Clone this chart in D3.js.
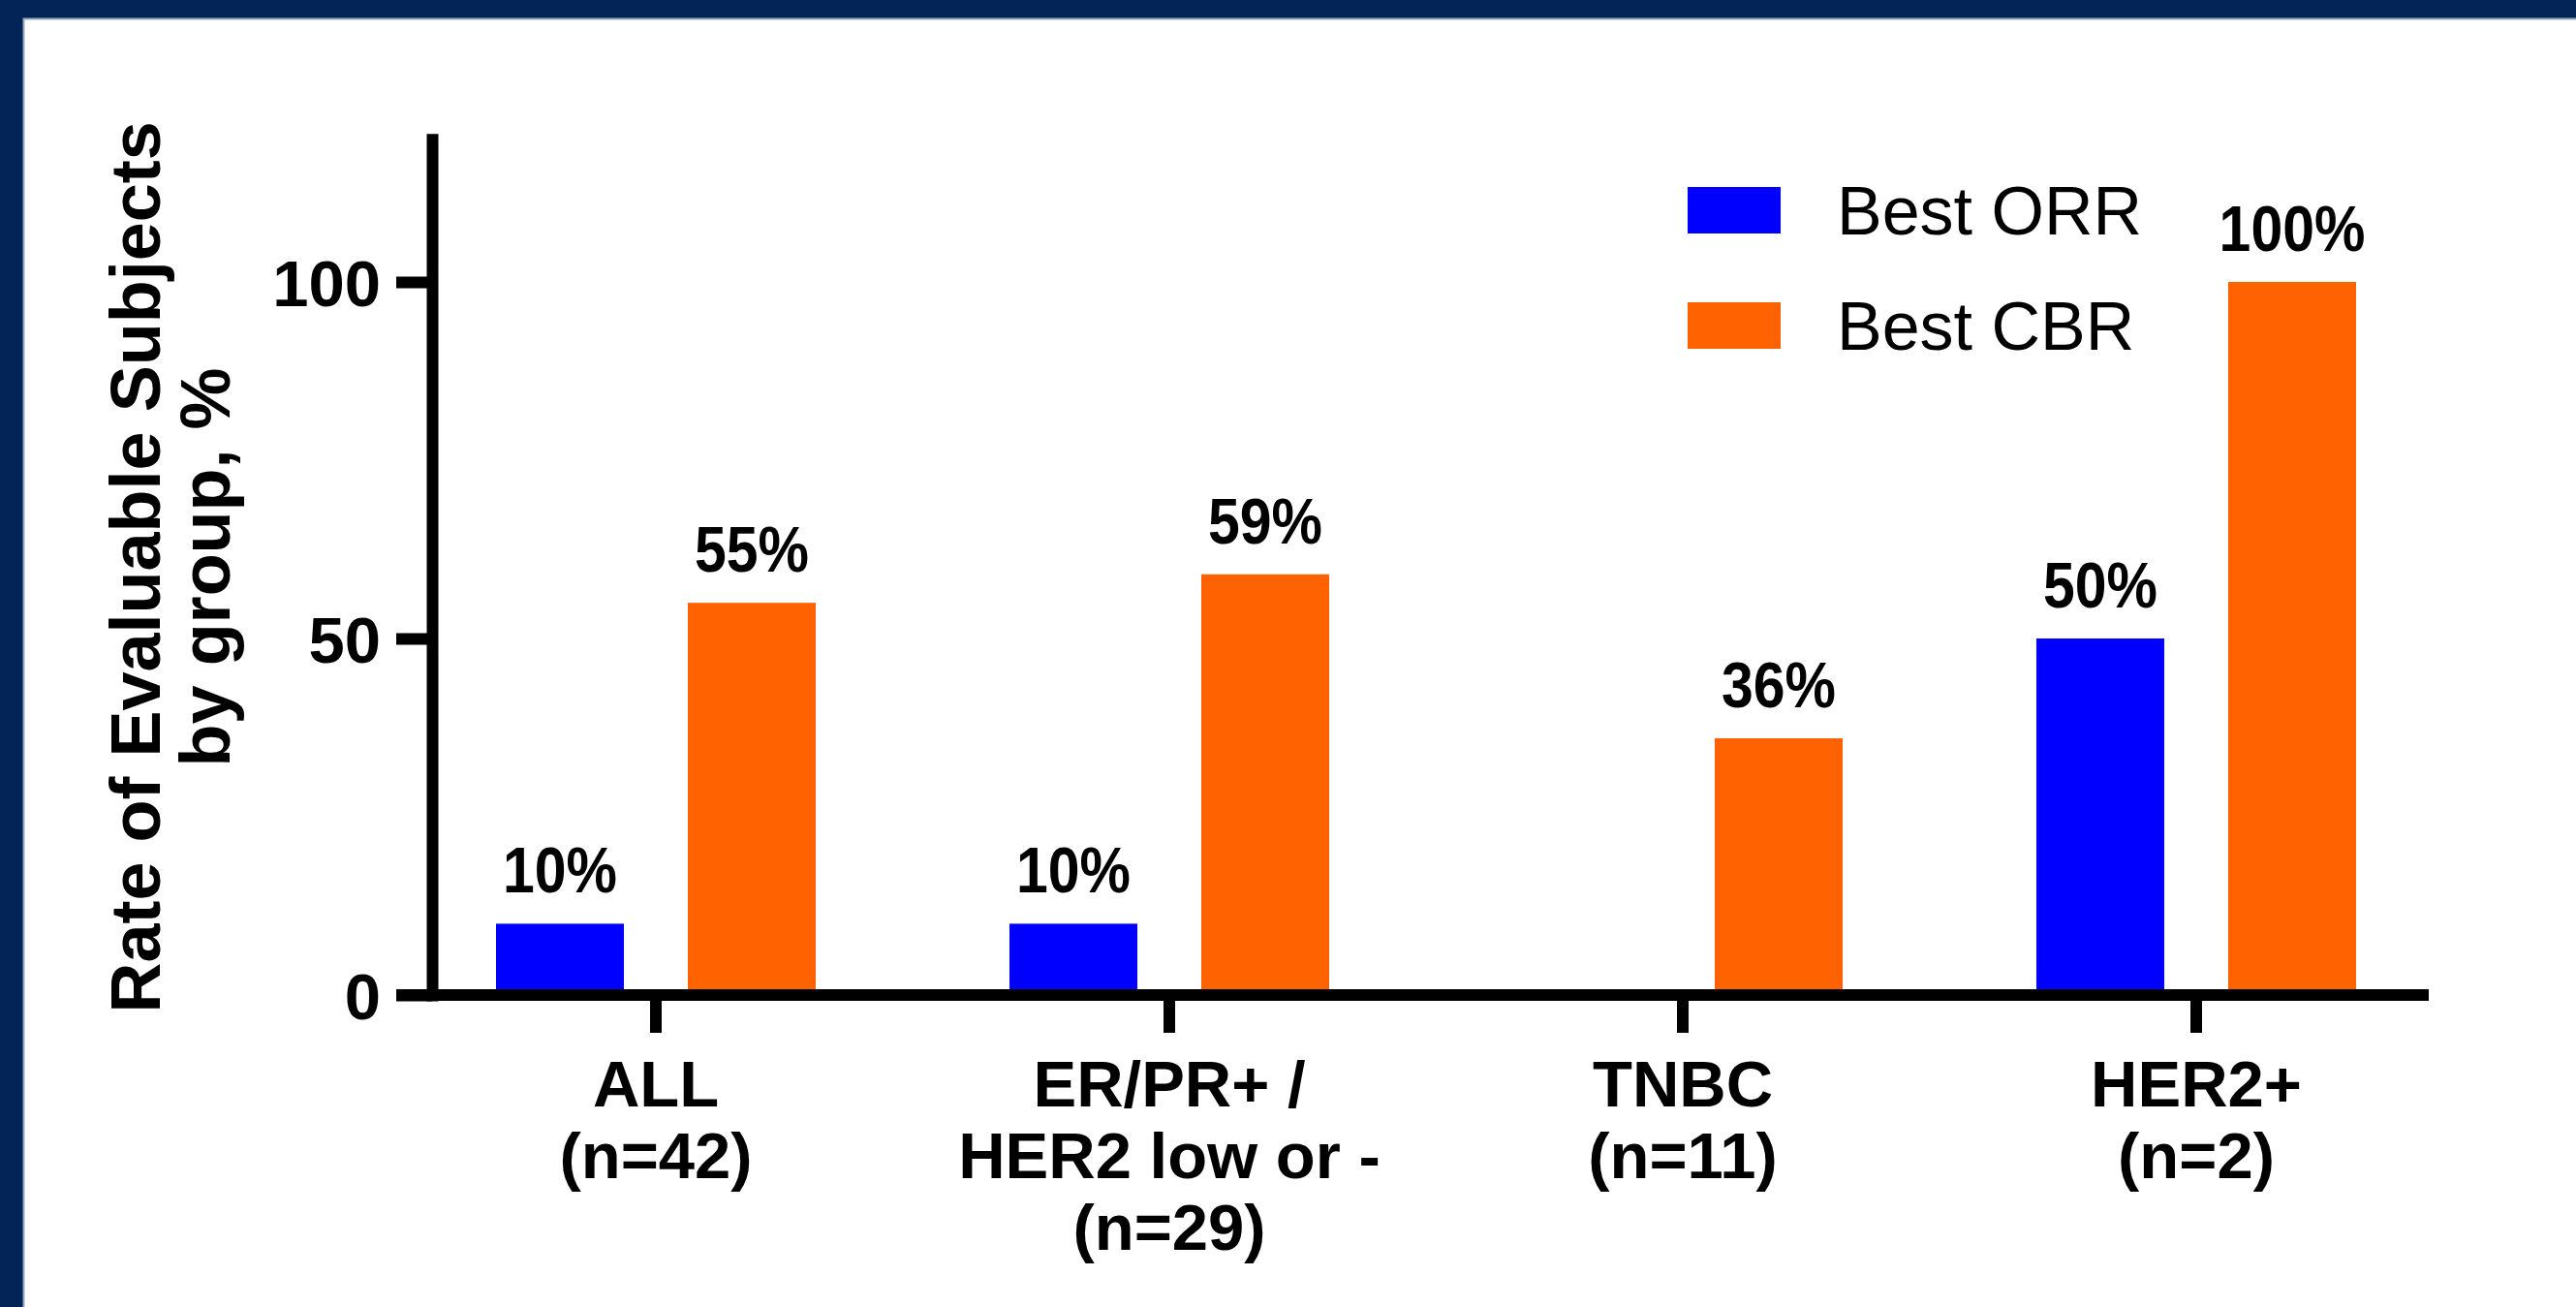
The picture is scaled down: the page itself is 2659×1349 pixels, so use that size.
<!DOCTYPE html>
<html>
<head>
<meta charset="utf-8">
<script src="https://cdn.jsdelivr.net/npm/d3@7"></script>
<style>
  html, body { margin: 0; padding: 0; background: #ffffff; }
  svg { display: block; }
  text { font-family: "Liberation Sans", Arial, Helvetica, sans-serif; fill: #000; }
</style>
</head>
<body>
<svg id="chart" width="2659" height="1349"></svg>
<script>
// Response rates by subgroup
const groups = ["ALL", "ER/PR+ / HER2 low or -", "TNBC", "HER2+"];
const groupLines = [
  ["ALL", "(n=42)"],
  ["ER/PR+ /", "HER2 low or -", "(n=29)"],
  ["TNBC", "(n=11)"],
  ["HER2+", "(n=2)"]
];
const seriesNames = ["Best ORR", "Best CBR"];
const bestORR = [10, 10, 0, 50];
const bestCBR = [55, 59, 36, 100];
const seriesColors = ["#0000ff", "#ff6200"];
const yTicks = [0, 50, 100];
const yTitleLines = ["Rate of Evaluable Subjects", "by group, %"];

const W = 2659, H = 1349;
const svg = d3.select("#chart");

// dark frame along top and left edges
svg.append("rect").attr("width", W).attr("height", H).attr("fill", "#022457");
svg.append("rect").attr("x", 24).attr("y", 19).attr("width", W - 24).attr("height", H - 19)
  .attr("fill", "#ffffff");
svg.append("path").attr("d", `M24.5,${H}V19.5H${W}`).attr("fill", "none")
  .attr("stroke", "#9aabc0").attr("stroke-width", 2);

const axisX = 446, baseY = 1027, axisW = 12;

const x0 = d3.scaleBand().domain(groups).range([412, 2532]).padding(0);
const x1 = d3.scaleBand().domain(seriesNames).range([-165, 165]).paddingInner(1 / 3).paddingOuter(0);
const y = d3.scaleLinear().domain([0, 120]).range([baseY, baseY - 120 * 7.36]);

const rows = groups.map((g, i) => ({ g, i, values: [bestORR[i], bestCBR[i]] }));

// bars
const gBars = svg.append("g");
rows.forEach(r => {
  r.values.forEach((v, s) => {
    if (v <= 0) return;
    const cx = x0(r.g) + x0.bandwidth() / 2 + x1(seriesNames[s]);
    gBars.append("rect")
      .attr("x", cx)
      .attr("y", y(v))
      .attr("width", x1.bandwidth())
      .attr("height", y(0) - y(v))
      .attr("fill", seriesColors[s]);
    gBars.append("text")
      .attr("transform", `translate(${cx + x1.bandwidth() / 2},${y(v) - 32}) scale(0.88,1)`)
      .attr("text-anchor", "middle")
      .attr("font-size", 67)
      .attr("font-weight", "bold")
      .text(v + "%");
  });
});

// y axis
const yAxis = d3.axisLeft(y).tickValues(yTicks).tickSize(37).tickSizeOuter(0).tickPadding(16);
const gy = svg.append("g").attr("transform", `translate(${axisX},0)`).call(yAxis);
gy.select(".domain").attr("stroke", "#000").attr("stroke-width", axisW).attr("stroke-linecap", "square");
gy.selectAll(".tick line").attr("stroke", "#000").attr("stroke-width", axisW);
gy.selectAll(".tick text")
  .attr("font-size", 67).attr("font-weight", "bold")
  .attr("font-family", '"Liberation Sans", Arial, sans-serif')
  .attr("fill", "#000").attr("dy", "0.36em");

// x axis
const xAxis = d3.axisBottom(x0).tickSize(39).tickSizeOuter(0).tickFormat("");
const gx = svg.append("g").attr("transform", `translate(0,${baseY})`).call(xAxis);
gx.select(".domain")
  .attr("d", `M${axisX - 37},0H${x0.range()[1] - 25}`)
  .attr("stroke", "#000").attr("stroke-width", axisW);
gx.selectAll(".tick line").attr("stroke", "#000").attr("stroke-width", axisW);

// category labels
const gLab = svg.append("g");
rows.forEach(r => {
  const t = gLab.append("text")
    .attr("x", x0(r.g) + x0.bandwidth() / 2)
    .attr("y", 1142)
    .attr("text-anchor", "middle")
    .attr("font-size", 67)
    .attr("font-weight", "bold");
  groupLines[r.i].forEach((line, k) => {
    t.append("tspan").attr("x", x0(r.g) + x0.bandwidth() / 2).attr("dy", k === 0 ? 0 : 74).text(line);
  });
});

// y axis title
const yt = svg.append("text")
  .attr("transform", `translate(165,${(y.range()[0] + y.range()[1]) / 2}) rotate(-90)`)
  .attr("text-anchor", "middle")
  .attr("font-size", 72)
  .attr("font-weight", "bold");
yTitleLines.forEach((line, k) => {
  yt.append("tspan").attr("x", 0).attr("dy", k === 0 ? 0 : 72).text(line);
});

// legend
const gLeg = svg.append("g");
seriesNames.forEach((name, s) => {
  const top = 193 + s * 119;
  gLeg.append("rect").attr("x", 1742).attr("y", top).attr("width", 96).attr("height", 48)
    .attr("fill", seriesColors[s]);
  gLeg.append("text").attr("x", 1896).attr("y", top + 49)
    .attr("font-size", 70).text(name);
});
</script>
</body>
</html>
